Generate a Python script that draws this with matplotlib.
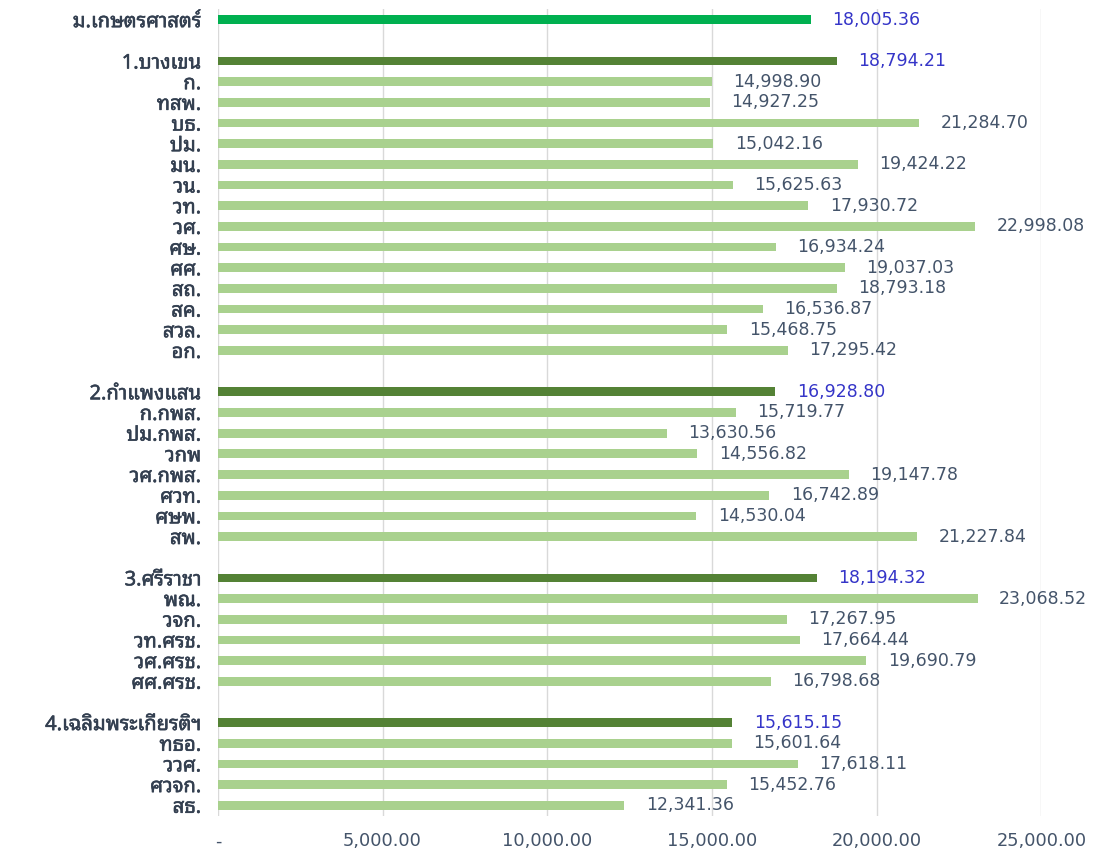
import matplotlib
matplotlib.use('Agg')
import matplotlib.pyplot as plt
import matplotlib.patheffects as pe
from matplotlib.ticker import FuncFormatter

# ---- data ----
top_label = "ม.เกษตรศาสตร์"
top_value = 18005.36

group1_name = "1.บางเขน"
group1_value = 18794.21
group1_labels = ["ก.", "ทสพ.", "บธ.", "ปม.", "มน.", "วน.", "วท.", "วศ.", "ศษ.", "ศศ.", "สถ.", "สค.", "สวล.", "อก."]
group1_values = [14998.90, 14927.25, 21284.70, 15042.16, 19424.22, 15625.63, 17930.72,
                 22998.08, 16934.24, 19037.03, 18793.18, 16536.87, 15468.75, 17295.42]

group2_name = "2.กำแพงแสน"
group2_value = 16928.80
group2_labels = ["ก.กพส.", "ปม.กพส.", "วกพ", "วศ.กพส.", "ศวท.", "ศษพ.", "สพ."]
group2_values = [15719.77, 13630.56, 14556.82, 19147.78, 16742.89, 14530.04, 21227.84]

group3_name = "3.ศรีราชา"
group3_value = 18194.32
group3_labels = ["พณ.", "วจก.", "วท.ศรช.", "วศ.ศรช.", "ศศ.ศรช."]
group3_values = [23068.52, 17267.95, 17664.44, 19690.79, 16798.68]

group4_name = "4.เฉลิมพระเกียรติฯ"
group4_value = 15615.15
group4_labels = ["ทธอ.", "ววศ.", "ศวจก.", "สธ."]
group4_values = [15601.64, 17618.11, 15452.76, 12341.36]

x_ticks = [0, 5000, 10000, 15000, 20000, 25000]

# ---- build rows (blank spacer rows between groups) ----
rows = []  # (label, value, kind)
rows.append((top_label, top_value, 'top'))
for gname, gval, labs, vals in [
    (group1_name, group1_value, group1_labels, group1_values),
    (group2_name, group2_value, group2_labels, group2_values),
    (group3_name, group3_value, group3_labels, group3_values),
    (group4_name, group4_value, group4_labels, group4_values),
]:
    rows.append(("", None, 'blank'))
    rows.append((gname, gval, 'group'))
    for l, v in zip(labs, vals):
        rows.append((l, v, 'item'))

THAI = ['Noto Sans Thai Looped', 'DejaVu Sans']
NUM = ['DejaVu Sans']

colors = {'top': '#00B050', 'group': '#548235', 'item': '#A9D18E'}
val_colors = {'top': '#3535C8', 'group': '#3535C8', 'item': '#44546A'}
label_color = '#333F50'

fig = plt.figure(figsize=(10.95, 8.49), dpi=100)
ax = fig.add_axes([0.199, 0.0393, 0.752, 0.9497])

n = len(rows)
ypos = list(range(n))
for y, (lab, val, kind) in zip(ypos, rows):
    if val is None:
        continue
    ax.barh(y, val, height=0.42, color=colors[kind], zorder=3)
    ax.text(val + 650, y, f"{val:,.2f}", va='center', ha='left',
            fontsize=12.5, color=val_colors[kind], family=NUM, zorder=4)

ax.set_ylim(n - 0.5, -0.5)
ax.set_xlim(0, 25000)
ax.set_yticks(ypos)
ax.set_yticklabels([r[0] for r in rows], family=THAI, fontsize=14.5, color=label_color,
                   va='center_baseline')
for t in ax.get_yticklabels():
    t.set_path_effects([pe.withStroke(linewidth=0.4, foreground=label_color)])
ax.tick_params(axis='y', length=0, pad=12)
ax.set_xticks(x_ticks)
ax.xaxis.set_major_formatter(FuncFormatter(lambda v, p: '-' if v == 0 else f"{v:,.2f}"))
for t in ax.get_xticklabels():
    t.set_family(NUM)
    t.set_fontsize(12.8)
    t.set_color('#44546A')
ax.tick_params(axis='x', length=0, pad=12)
ax.grid(axis='x', color='#D9D9D9', linewidth=1, zorder=0)
for s in ax.spines.values():
    s.set_visible(False)

fig.savefig('out.png', dpi=100)
